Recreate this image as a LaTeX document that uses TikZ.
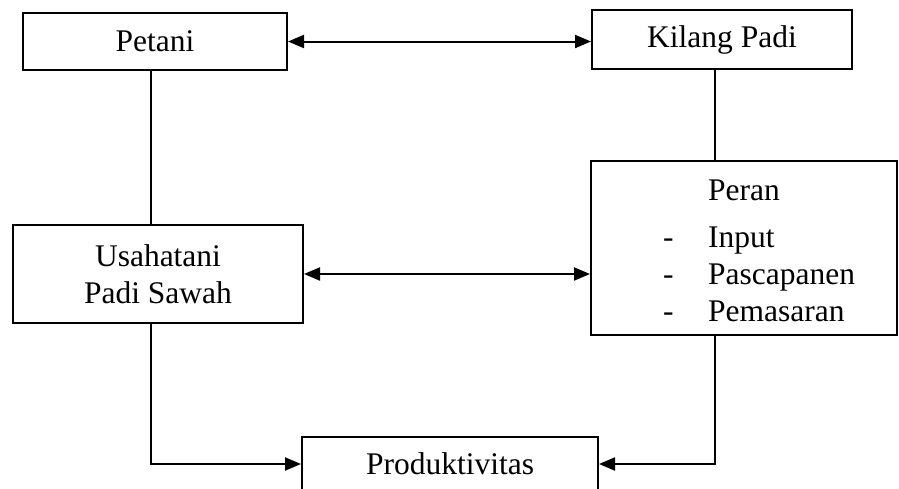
\documentclass[tikz,border=0pt]{standalone}
\usepackage{fontspec}
\setmainfont{Liberation Serif}
\usetikzlibrary{arrows.meta, positioning, calc}

\begin{document}
\begin{tikzpicture}[
    x=1pt, y=-1pt,
    every node/.style={font=\fontsize{31.5}{37}\selectfont},
    box/.style={draw, line width=2pt, inner sep=0pt, align=center},
    link/.style={line width=2pt},
    flow/.style={line width=2pt, -{Triangle[length=16pt, width=13pt]}},
    both/.style={line width=2pt,
      {Triangle[length=16pt, width=13pt]}-{Triangle[length=16pt, width=13pt]}},
  ]
  \useasboundingbox (0,0) rectangle (899,488);
  \clip (0,0) rectangle (899,488);

  % kotak
  \node[box, minimum width=264pt, minimum height=57pt] (petani) at (155,41.5) {Petani};
  \node[box, minimum width=260pt, minimum height=59pt] (kilang) at (722,39.5) {Kilang Padi};
  \node[box, minimum width=290pt, minimum height=98pt] (usaha) at (158,274) {Usahatani\\Padi Sawah};
  \node[box, minimum width=306pt, minimum height=174pt] (peran) at (744,248) {};
  \node[anchor=base west, inner sep=0pt] (isi) at (663,200) {%
    \begin{tabular}[t]{@{}p{45pt}@{}l@{}}
      & Peran\\[10pt]
      - & Input\\
      - & Pascapanen\\
      - & Pemasaran
    \end{tabular}};
  \node[box, minimum width=296pt, minimum height=54pt] (prod) at (450,464) {Produktivitas};

  % jalur garis
  \coordinate (kiri) at (151,0);
  \coordinate (kanan) at (715,0);

  \draw[both] (petani.east) -- (petani.east -| kilang.west);
  \draw[link] (petani.south -| kiri) -- (usaha.north -| kiri);
  \draw[link] (kilang.south -| kanan) -- (peran.north -| kanan);
  \draw[both] (usaha.east) -- (usaha.east -| peran.west);
  \draw[flow] (usaha.south -| kiri) |- (prod.west);
  \draw[flow] (peran.south -| kanan) |- (prod.east);
\end{tikzpicture}
\end{document}
